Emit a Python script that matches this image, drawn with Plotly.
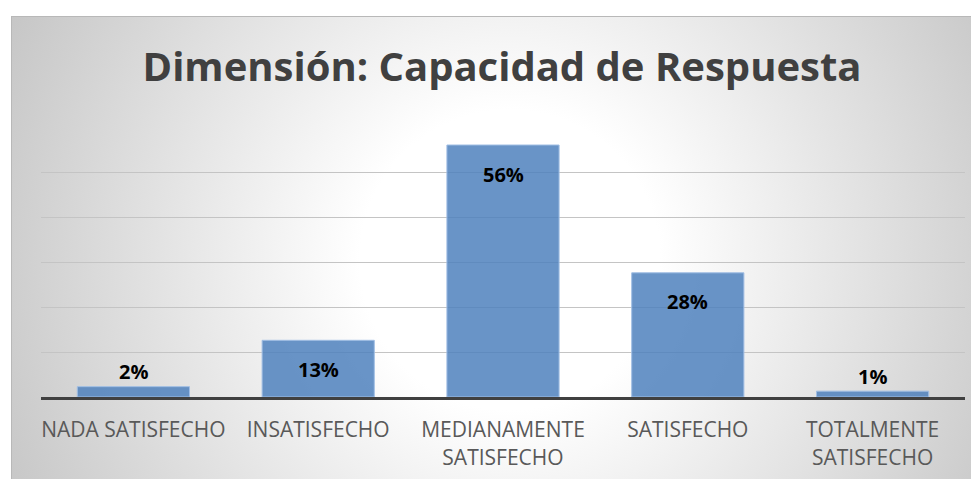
import base64
import plotly.graph_objects as go

categories = ["NADA SATISFECHO", "INSATISFECHO", "MEDIANAMENTE<br>SATISFECHO",
              "SATISFECHO", "TOTALMENTE<br>SATISFECHO"]
values = [0.023, 0.126, 0.56, 0.276, 0.013]
title_text = "Dimensión: Capacidad de Respuesta"

# page body has an 8px margin, so figure is sized to fit the window
W, H = 971, 471
L, R, T, B = 33, 14, 119, 82
plot_w = W - L - R
plot_h = H - T - B
y_max = 0.6
px_per_unit = plot_h / y_max

# radial gradient chart background as svg image
fx0, fy0, fw, fh = 3, 8, 968, 463
svg = f'''<svg xmlns="http://www.w3.org/2000/svg" width="{fw}" height="{fh}" viewBox="0 0 {fw} {fh}">
<defs><radialGradient id="g" gradientUnits="userSpaceOnUse" cx="499" cy="244" r="600">
<stop offset="0.25" stop-color="#ffffff"/><stop offset="1" stop-color="#c0c0c0"/></radialGradient></defs>
<rect x="0" y="0" width="{fw}" height="{fh}" fill="url(#g)"/>
<rect x="0.5" y="0.5" width="{fw+10}" height="{fh+10}" fill="none" stroke="#b8b8b8" stroke-width="1"/>
</svg>'''
src = "data:image/svg+xml;base64," + base64.b64encode(svg.encode()).decode()

fig = go.Figure()
fig.add_trace(go.Bar(
    x=categories, y=values,
    marker=dict(color="rgba(79,129,189,0.85)", line=dict(color="rgba(160,190,228,1)", width=1)),
    hoverinfo="skip",
))

annotations = []
for c, v in zip(categories, values):
    inside = v * px_per_unit > 40
    annotations.append(dict(
        x=c, y=v, xref="x", yref="y", text=f"{v:.0%}", showarrow=False,
        yanchor="middle", yshift=-29 if inside else 15,
        font=dict(family="Open Sans", size=20, color="#000000", weight="bold"),
    ))

fig.update_layout(
    width=W, height=H,
    margin=dict(l=L, r=R, t=T, b=B, autoexpand=False),
    paper_bgcolor="#ffffff", plot_bgcolor="rgba(0,0,0,0)",
    bargap=0.393,
    showlegend=False,
    title=dict(text=title_text, x=494 / W, xanchor="center", y=1 - 59 / H, yanchor="middle",
               font=dict(family="Open Sans", size=40, color="#404040", weight="bold")),
    images=[dict(source=src, xref="paper", yref="paper",
                 x=(fx0 - L) / plot_w, y=(H - B - fy0) / plot_h,
                 sizex=fw / plot_w, sizey=fh / plot_h,
                 xanchor="left", yanchor="top", sizing="stretch", layer="below")],
    annotations=annotations,
    xaxis=dict(showline=True, linecolor="#404040", linewidth=3, ticks="",
               tickfont=dict(family="Open Sans", size=21, color="#595959"),
               ticklabelstandoff=12, automargin=False,
               showgrid=False, zeroline=False),
    yaxis=dict(range=[0, y_max], dtick=0.1, showgrid=True, gridcolor="#c4c4c4", gridwidth=1,
               showticklabels=False, zeroline=False, showline=False, ticks="",
               automargin=False),
)

fig.write_html("out.html")
